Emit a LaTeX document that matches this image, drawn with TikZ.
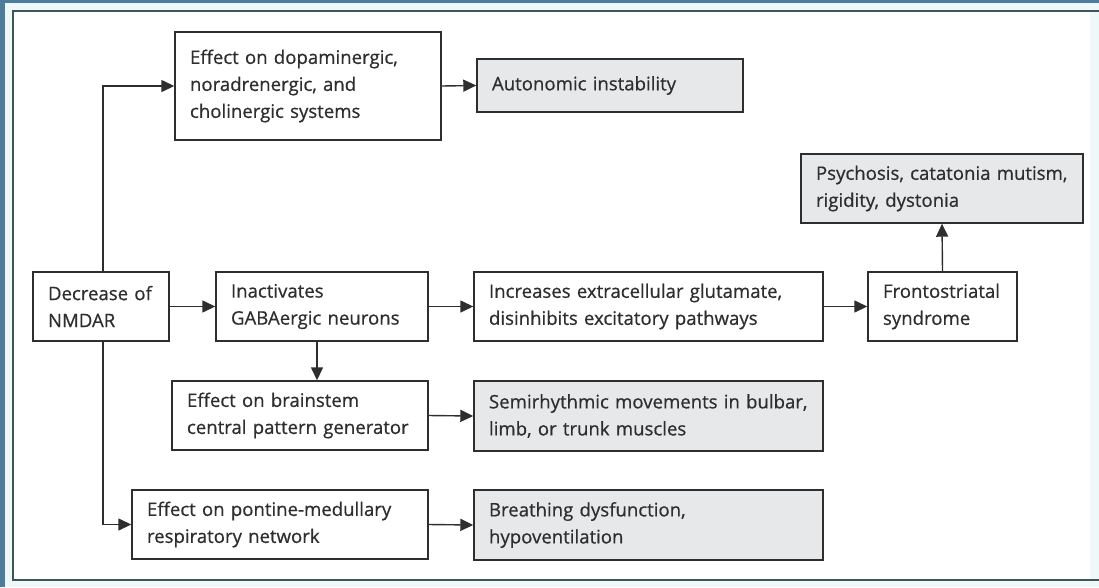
\documentclass[tikz,border=0pt]{standalone}
\usepackage{fontspec}
\setmainfont{Open Sans}[FakeBold=0.6]
\usetikzlibrary{arrows.meta}
\definecolor{band}{HTML}{4D7D9C}
\definecolor{bgc}{HTML}{EEF8F9}
\definecolor{framec}{HTML}{3E5656}
\definecolor{ink}{HTML}{2E2E2E}
\definecolor{boxgray}{HTML}{E7E8EA}
\tikzset{
  fbox/.style={draw=ink, line width=1.4pt, fill=white, align=left, inner xsep=15pt, inner ysep=0pt,
    text=ink, font=\fontsize{18.6}{27}\selectfont, anchor=center},
  gbox/.style={fbox, fill=boxgray},
  conn/.style={draw=ink, line width=1.4pt, -{Triangle[length=13pt,width=12pt]}},
}
\begin{document}
\begin{tikzpicture}[x=1pt,y=-1pt]
\useasboundingbox (0,0) rectangle (1099,587);
\fill[bgc] (0,0) rectangle (1099,587);
\fill[band] (0,0) rectangle (5,587);
\fill[band] (0,0) rectangle (1099,3);
\fill[white] (13,11) rectangle (1090,580);
\draw[framec, line width=1.5pt] (1099,11) -- (13,11) -- (13,580) -- (1099,580);

\node[fbox, text width=236pt, minimum height=108pt] (b1) at (308,86) {Effect on dopaminergic,\\noradrenergic, and\\cholinergic systems};
\node[gbox, text width=236pt, minimum height=53pt] (auto) at (610,85.5) {Autonomic instability};
\node[gbox, text width=252pt, minimum height=69pt] (psy) at (942,188.5) {Psychosis, catatonia mutism,\\rigidity, dystonia};
\node[fbox, text width=119pt, minimum height=69pt] (front) at (942.5,306.5) {Frontostriatal\\syndrome};
\node[fbox, text width=106pt, minimum height=69pt] (nmdar) at (101,306.5) {Decrease of\\NMDAR};
\node[fbox, text width=182pt, minimum height=69pt] (inact) at (322,306.5) {Inactivates\\GABAergic neurons};
\node[fbox, text width=319pt, minimum height=69pt] (incr) at (648.5,306.5) {Increases extracellular glutamate,\\disinhibits excitatory pathways};
\node[fbox, text width=226pt, minimum height=69pt] (brain) at (300,415.5) {Effect on brainstem\\central pattern generator};
\node[gbox, text width=319pt, minimum height=70pt] (semi) at (648.5,416) {Semirhythmic movements in bulbar,\\limb, or trunk muscles};
\node[fbox, text width=266pt, minimum height=69pt] (pont) at (280,524.5) {Effect on pontine-medullary\\respiratory network};
\node[gbox, text width=319pt, minimum height=70pt] (breath) at (648.5,525) {Breathing dysfunction,\\hypoventilation};

\coordinate (nup) at ([xshift=2pt]nmdar.north);
\coordinate (ndn) at ([xshift=2pt]nmdar.south);
\draw[conn] (nup) |- (b1.west);
\draw[conn] (ndn) |- (pont.west);
\draw[conn] (b1.east) -- (auto.west);
\draw[conn] (nmdar.east) -- (inact.west);
\draw[conn] (inact.east) -- (incr.west);
\draw[conn] (incr.east) -- (front.west);
\draw[conn] (front.north) -- (psy.south);
\coordinate (idn) at ([xshift=-5pt]inact.south);
\draw[conn] (idn) -- (idn |- brain.north);
\draw[conn] (brain.east) -- (semi.west);
\draw[conn] (pont.east) -- (breath.west);
\end{tikzpicture}
\end{document}
